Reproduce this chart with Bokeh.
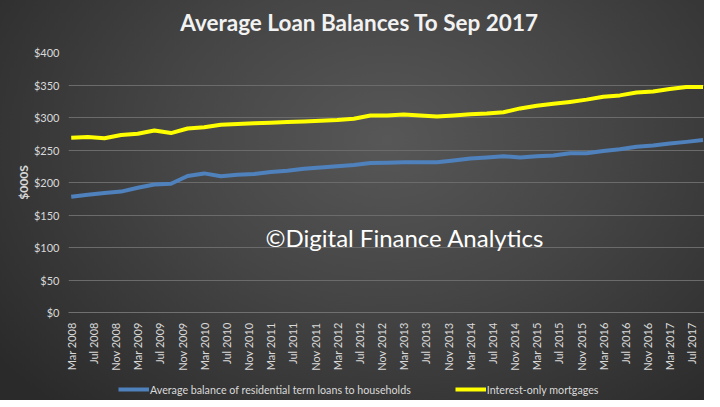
import math
from bokeh.plotting import figure
from bokeh.layouts import column
from bokeh.models import Range1d, FixedTicker, Legend, LegendItem, Label, InlineStyleSheet
from bokeh.embed import file_html
from bokeh.resources import INLINE

# ---- data (values in $000s, quarterly) ----
quarters = [
    "Mar 2008", "Jun 2008", "Sep 2008", "Dec 2008",
    "Mar 2009", "Jun 2009", "Sep 2009", "Dec 2009",
    "Mar 2010", "Jun 2010", "Sep 2010", "Dec 2010",
    "Mar 2011", "Jun 2011", "Sep 2011", "Dec 2011",
    "Mar 2012", "Jun 2012", "Sep 2012", "Dec 2012",
    "Mar 2013", "Jun 2013", "Sep 2013", "Dec 2013",
    "Mar 2014", "Jun 2014", "Sep 2014", "Dec 2014",
    "Mar 2015", "Jun 2015", "Sep 2015", "Dec 2015",
    "Mar 2016", "Jun 2016", "Sep 2016", "Dec 2016",
    "Mar 2017", "Jun 2017", "Sep 2017",
]
avg_balance = [
    178, 181, 184, 186,
    192, 197, 198, 210,
    214, 209.5, 212, 213,
    216, 218, 221, 223,
    225, 227, 230, 230.5,
    231, 231, 231, 234,
    237, 238.5, 240.5, 238.5,
    240.5, 241.5, 245, 245,
    248.5, 251, 255, 257,
    260, 262.5, 265.5,
]
interest_only = [
    269, 270, 268, 273,
    275, 280, 276, 283,
    285, 289, 290, 291,
    292, 293, 294, 295,
    296, 298, 303, 303,
    304.5, 303, 301.5, 303,
    305, 306, 308, 314,
    318, 321, 324, 327.5,
    332, 334, 338.5, 340,
    344, 347, 347,
]
tick_labels = [
    "Mar 2008", "Jul 2008", "Nov 2008", "Mar 2009", "Jul 2009", "Nov 2009",
    "Mar 2010", "Jul 2010", "Nov 2010", "Mar 2011", "Jul 2011", "Nov 2011",
    "Mar 2012", "Jul 2012", "Nov 2012", "Mar 2013", "Jul 2013", "Nov 2013",
    "Mar 2014", "Jul 2014", "Nov 2014", "Mar 2015", "Jul 2015", "Nov 2015",
    "Mar 2016", "Jul 2016", "Nov 2016", "Mar 2017", "Jul 2017",
]
y_ticks = [0, 50, 100, 150, 200, 250, 300, 350, 400]
series_names = ["Average balance of residential term loans to households",
                "Interest-only mortgages"]
series_values = [avg_balance, interest_only]
series_colors = ["#4f81bd", "#ffff00"]
title_text = "Average Loan Balances To Sep 2017"
watermark = "\u00a9Digital Finance Analytics"

MONTHS = ["Jan", "Feb", "Mar", "Apr", "May", "Jun",
          "Jul", "Aug", "Sep", "Oct", "Nov", "Dec"]


def month_index(s):
    m, y = s.split()
    return (int(y) - 2008) * 12 + MONTHS.index(m) - 2


xs = [month_index(q) for q in quarters]
tick_pos = [month_index(t) for t in tick_labels]

FONT = "Lato"
TXT = "#d9d9d9"
W = 704
LEFT = 68


def blank(fig):
    fig.background_fill_color = None
    fig.border_fill_color = None
    fig.outline_line_color = None
    fig.xaxis.visible = False
    fig.yaxis.visible = False
    fig.xgrid.grid_line_color = None
    fig.ygrid.grid_line_color = None


# ---- title strip (frame aligned with the main chart's frame) ----
TH = 44
tf = figure(width=W, height=TH, output_backend="svg", toolbar_location=None,
            x_range=Range1d(LEFT, W), y_range=Range1d(0, TH),
            min_border=0)
blank(tf)
tf.add_layout(Label(x=359, y=TH - 22, text=title_text, text_align="center",
                    text_baseline="middle", text_font=FONT, text_font_style="bold",
                    text_font_size="22.5px", text_color="#f2f2f2"))

# ---- main chart ----
p = figure(frame_width=W - LEFT, frame_height=260, output_backend="svg", toolbar_location=None,
           x_range=Range1d(-0.49, 114.27), y_range=Range1d(0, 400),
           min_border_left=LEFT, min_border_right=0, min_border_top=8,
           min_border_bottom=70)
p.background_fill_color = None
p.border_fill_color = None
p.outline_line_color = None

for vals, col in zip(series_values, series_colors):
    p.line(xs, vals, line_color=col, line_width=4, line_join="round")

p.xaxis.ticker = FixedTicker(ticks=tick_pos)
p.xaxis.major_label_overrides = {pos: lab for pos, lab in zip(tick_pos, tick_labels)}
p.xaxis.major_label_orientation = math.pi / 2
p.xaxis.major_label_text_font = FONT
p.xaxis.major_label_text_font_size = "11px"
p.xaxis.major_label_text_color = TXT
p.xaxis.major_label_standoff = 10
p.xaxis.axis_line_color = "#707070"
p.xaxis.major_tick_line_color = None
p.xaxis.minor_tick_line_color = None
p.xaxis.major_tick_out = 0
p.xaxis.major_tick_in = 0
p.xaxis.minor_tick_out = 0

p.yaxis.ticker = FixedTicker(ticks=y_ticks)
p.yaxis.major_label_overrides = {v: "${}".format(v) for v in y_ticks}
p.yaxis.major_label_text_font = FONT
p.yaxis.major_label_text_font_size = "11px"
p.yaxis.major_label_text_color = TXT
p.yaxis.major_label_standoff = 9
p.yaxis.axis_line_color = None
p.yaxis.major_tick_line_color = None
p.yaxis.minor_tick_line_color = None
p.yaxis.major_tick_out = 0
p.yaxis.major_tick_in = 0
p.yaxis.minor_tick_out = 0
p.yaxis.axis_label = "$000S"
p.yaxis.axis_label_text_font = FONT
p.yaxis.axis_label_text_font_style = "bold"
p.yaxis.axis_label_text_font_size = "12px"
p.yaxis.axis_label_text_color = TXT
p.yaxis.axis_label_standoff = 0

p.xgrid.grid_line_color = None
p.ygrid.grid_line_color = "#6b6b6b"
p.ygrid.grid_line_width = 1

p.add_layout(Label(x=60.2, y=116, text=watermark, text_align="center",
                   text_baseline="middle", text_font=FONT, text_font_size="24px",
                   text_color="#ffffff"))

# ---- legend strip (series drawn out of view; only the legend shows) ----
LH = 18
lf = figure(width=W, height=LH, output_backend="svg", toolbar_location=None,
            x_range=Range1d(0, 1), y_range=Range1d(0, 1), min_border=0)
blank(lf)
proxies = [lf.line(xs, vals, line_color=col, line_width=4)
           for vals, col in zip(series_values, series_colors)]
legend = Legend(items=[LegendItem(label=n, renderers=[r]) for n, r in zip(series_names, proxies)],
                orientation="horizontal", location=(50, 4),
                background_fill_alpha=0, border_line_alpha=0,
                label_text_color=TXT, label_text_font=FONT,
                label_text_font_size="10.7px", glyph_width=31, glyph_height=12,
                label_height=14, label_standoff=1, spacing=44, padding=0, margin=0)
lf.add_layout(legend, "center")

layout = column(tf, p, lf, spacing=0)
layout.stylesheets = [InlineStyleSheet(css=":host { background: radial-gradient(ellipse 70% 90% at 55% 35%, #575757 0%, #454545 45%, #2a2a2a 100%); }")]

open("out.html", "w").write(file_html(layout, INLINE))
